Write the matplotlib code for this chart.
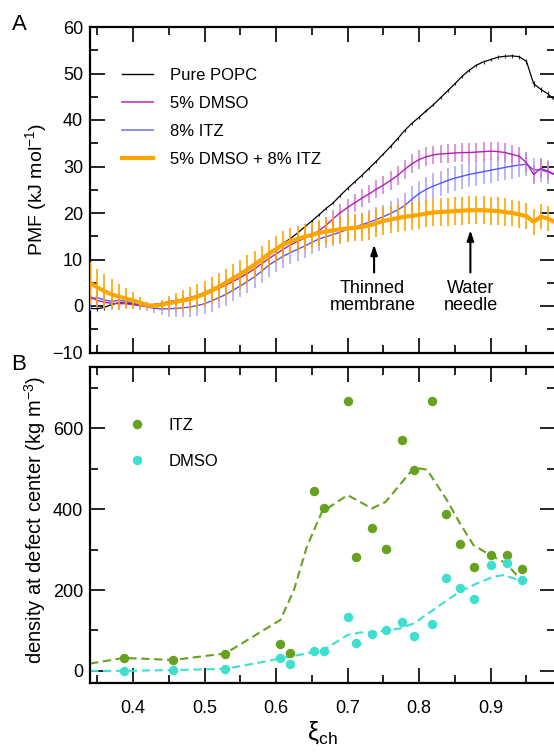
import numpy as np
import matplotlib
matplotlib.use("Agg")
import matplotlib.pyplot as plt
from matplotlib.lines import Line2D
from matplotlib.ticker import MultipleLocator

plt.rcParams['font.family'] = ['Liberation Sans', 'DejaVu Sans']
plt.rcParams['mathtext.fontset'] = 'custom'
plt.rcParams['mathtext.rm'] = 'Liberation Sans'
plt.rcParams['mathtext.it'] = 'Liberation Sans:italic'

# ---------------- Panel A data (PMF) ----------------
xi = [0.34, 0.35, 0.36, 0.37, 0.38, 0.39, 0.40, 0.41, 0.42, 0.43,
      0.44, 0.45, 0.46, 0.47, 0.48, 0.49, 0.50, 0.51, 0.52, 0.53,
      0.54, 0.55, 0.56, 0.57, 0.58, 0.59, 0.60, 0.61, 0.62, 0.63,
      0.64, 0.65, 0.66, 0.67, 0.68, 0.69, 0.70, 0.71, 0.72, 0.73,
      0.74, 0.75, 0.76, 0.77, 0.78, 0.79, 0.80, 0.81, 0.82, 0.83,
      0.84, 0.85, 0.86, 0.87, 0.88, 0.89, 0.90, 0.91, 0.92, 0.93,
      0.94, 0.95, 0.96, 0.97, 0.98, 0.99]

pmf_popc = [-0.5, -0.6, -0.3, 0.3, 0.7, 0.6, 0.4, 0.2, 0.2, 0.3,
            0.6, 0.9, 1.2, 1.5, 1.8, 2.3, 2.9, 3.6, 4.4, 5.3,
            6.2, 7.1, 8.1, 9.2, 10.3, 11.5, 12.5, 13.5, 14.5, 15.7,
            17.0, 18.3, 19.6, 21.0, 22.2, 23.8, 25.3, 26.7, 28.1, 29.6,
            31.1, 32.7, 34.3, 36.0, 37.8, 39.3, 40.6, 42.0, 43.3, 44.8,
            46.3, 47.8, 49.4, 50.7, 51.8, 52.5, 53.0, 53.5, 53.7, 53.8,
            53.6, 52.6, 47.8, 46.6, 45.6, 44.2]
err_popc = [0.5, 0.5, 0.5, 0.4, 0.4, 0.4, 0.3, 0.3, 0.3, 0.3,
            0.3, 0.3, 0.3, 0.3, 0.3, 0.3, 0.3, 0.3, 0.3, 0.3,
            0.3, 0.3, 0.3, 0.3, 0.3, 0.3, 0.3, 0.3, 0.3, 0.3,
            0.3, 0.3, 0.3, 0.3, 0.3, 0.3, 0.3, 0.3, 0.3, 0.3,
            0.3, 0.3, 0.3, 0.3, 0.3, 0.3, 0.3, 0.3, 0.3, 0.3,
            0.3, 0.3, 0.3, 0.3, 0.3, 0.4, 0.4, 0.4, 0.4, 0.4,
            0.4, 0.5, 0.6, 0.6, 0.6, 0.6]

pmf_dmso = [2.0, 1.2, 0.8, 0.6, 0.5, 0.5, 0.3, 0.1, 0.0, 0.1,
            0.4, 0.7, 1.0, 1.3, 1.7, 2.1, 2.6, 3.2, 3.8, 4.5,
            5.3, 6.1, 7.0, 8.0, 9.1, 10.2, 11.2, 12.2, 13.1, 13.9,
            14.6, 15.3, 16.2, 17.4, 18.8, 20.1, 21.2, 22.2, 23.2, 24.1,
            25.1, 26.0, 27.0, 28.1, 29.4, 30.6, 31.5, 32.1, 32.5, 32.7,
            32.8, 32.9, 33.0, 33.0, 33.1, 33.2, 33.3, 33.2, 33.0, 32.6,
            32.2, 30.8, 28.3, 29.6, 29.0, 28.3]
err_dmso = [1.5, 1.3, 1.1, 1.0, 0.9, 0.8, 0.6, 0.5, 0.4, 0.5,
            0.7, 0.9, 1.0, 1.1, 1.2, 1.3, 1.4, 1.5, 1.5, 1.6,
            1.6, 1.6, 1.7, 1.7, 1.7, 1.7, 1.7, 1.7, 1.8, 1.8,
            1.8, 1.8, 1.8, 1.8, 1.8, 1.8, 1.9, 1.9, 1.9, 1.9,
            1.9, 1.9, 2.0, 2.0, 2.0, 2.0, 2.0, 2.0, 2.0, 2.0,
            2.0, 2.0, 2.0, 2.0, 2.0, 2.0, 2.0, 2.0, 2.0, 2.0,
            2.0, 2.0, 2.0, 2.0, 2.0, 2.0]

pmf_itz = [1.5, 1.8, 1.3, 1.0, 1.2, 1.0, 0.6, 0.2, -0.2, -0.5,
           -0.6, -0.6, -0.5, -0.4, -0.2, 0.1, 0.5, 1.1, 1.8, 2.5,
           3.4, 4.3, 5.3, 6.3, 7.5, 8.8, 9.8, 10.7, 11.5, 12.2,
           12.9, 13.7, 14.4, 14.9, 15.4, 15.9, 16.5, 17.0, 17.5, 18.0,
           18.6, 19.2, 19.9, 20.7, 21.6, 23.0, 24.2, 25.1, 25.8, 26.4,
           27.0, 27.5, 27.9, 28.3, 28.6, 28.9, 29.2, 29.5, 29.8, 30.1,
           30.3, 30.5, 29.3, 29.3, 28.8, 28.2]
err_itz = [2.5, 2.3, 2.0, 1.8, 1.6, 1.4, 1.2, 1.0, 0.8, 1.0,
           1.4, 1.7, 1.9, 2.0, 2.1, 2.2, 2.2, 2.3, 2.3, 2.4,
           2.4, 2.4, 2.5, 2.5, 2.5, 2.5, 2.5, 2.5, 2.5, 2.5,
           2.5, 2.5, 2.5, 2.5, 2.5, 2.5, 2.6, 2.6, 2.6, 2.6,
           2.6, 2.6, 2.6, 2.6, 2.7, 2.7, 2.7, 2.7, 2.7, 2.7,
           2.7, 2.7, 2.7, 2.7, 2.7, 2.7, 2.7, 2.7, 2.7, 2.7,
           2.6, 2.6, 2.6, 2.6, 2.6, 2.6]

pmf_combo = [5.0, 4.0, 3.2, 2.5, 2.0, 1.6, 1.2, 0.7, 0.2, 0.0,
             0.3, 0.6, 0.9, 1.2, 1.5, 2.0, 2.6, 3.3, 4.1, 5.0,
             5.9, 6.8, 7.8, 8.9, 10.0, 11.2, 12.2, 13.2, 13.9, 14.4,
             14.9, 15.3, 15.7, 16.0, 16.3, 16.5, 16.7, 16.8, 17.0, 17.3,
             17.8, 18.3, 18.6, 18.9, 19.2, 19.4, 19.6, 19.9, 20.1, 20.2,
             20.3, 20.4, 20.5, 20.6, 20.6, 20.6, 20.5, 20.4, 20.2, 20.0,
             19.7, 19.3, 18.1, 19.2, 18.8, 18.0]
err_combo = [4.5, 4.0, 3.6, 3.2, 2.8, 2.3, 1.8, 1.2, 0.6, 0.3,
             1.0, 1.6, 2.0, 2.3, 2.5, 2.7, 2.8, 2.9, 3.0, 3.0,
             3.1, 3.1, 3.1, 3.0, 3.0, 3.0, 2.9, 2.9, 2.8, 2.8,
             2.8, 2.8, 2.9, 2.9, 2.9, 2.9, 2.9, 2.9, 3.0, 3.0,
             3.0, 3.0, 3.0, 3.0, 3.0, 3.0, 3.0, 3.0, 3.0, 3.0,
             3.0, 3.0, 3.0, 3.0, 3.0, 3.0, 3.0, 3.0, 3.0, 2.9,
             2.9, 2.8, 2.8, 2.7, 2.7, 2.7]

pmf_labels = ["Pure POPC", "5% DMSO", "8% ITZ", "5% DMSO + 8% ITZ"]

# ---------------- Panel B data (density) ----------------
xi_pts = [0.387, 0.456, 0.529, 0.606, 0.620, 0.653, 0.667, 0.700, 0.712, 0.734,
          0.753, 0.776, 0.793, 0.818, 0.837, 0.857, 0.877, 0.900, 0.923, 0.944]
dens_itz = [32, 27, 43, 67, 45, 445, 402, 669, 281, 353,
            301, 572, 497, 667, 389, 314, 256, 286, 287, 251]
dens_dmso = [0, 1, 5, 31, 16, 48, 49, 134, 70, 91,
             101, 121, 87, 117, 230, 206, 179, 261, 267, 225]

xi_fit_itz = [0.34, 0.387, 0.456, 0.529, 0.606, 0.625, 0.643, 0.664, 0.700, 0.734,
              0.753, 0.793, 0.811, 0.839, 0.857, 0.876, 0.904, 0.922, 0.944]
fit_itz = [18, 32, 27, 43, 126, 200, 307, 393, 435, 402,
           418, 503, 498, 422, 365, 311, 282, 266, 221]
xi_fit_dmso = [0.34, 0.387, 0.456, 0.529, 0.578, 0.606, 0.625, 0.667, 0.700, 0.718,
               0.734, 0.773, 0.793, 0.820, 0.839, 0.857, 0.880, 0.904, 0.918, 0.932, 0.944]
fit_dmso = [0, 0, 2, 5, 21, 31, 37, 52, 89, 95,
            95, 105, 118, 151, 175, 196, 216, 233, 237, 229, 222]
dens_labels = ["ITZ", "DMSO"]

# ---------------- figure ----------------
W, H = 554, 753
fig = plt.figure(figsize=(W / 100, H / 100), dpi=100)
fig.patch.set_facecolor('white')

def fx(px):
    return px / W

def fy(py):
    return 1 - py / H

left_px, right_px = 90.04, 555.1
axA = fig.add_axes([fx(left_px), fy(352.5), (right_px - left_px) / W, (352.5 - 27) / H])
axB = fig.add_axes([fx(left_px), fy(683), (right_px - left_px) / W, (683 - 367) / H])

c_black = 'black'
c_mag, c_mag_e = '#b020b0', '#d27ad2'
c_blue, c_blue_e = '#5555ff', '#a3a3ff'
c_orange = '#ffa500'
c_green, c_cyan = '#66a11f', '#3fdfd0'

axA.errorbar(xi, pmf_popc, yerr=err_popc, color=c_black, lw=0.9, ecolor='#333333',
             elinewidth=0.8, capsize=0, zorder=2)
axA.errorbar(xi, pmf_itz, yerr=err_itz, color=c_blue, lw=1.0, ecolor=c_blue_e,
             elinewidth=1.1, capsize=0, zorder=3)
axA.errorbar(xi, pmf_dmso, yerr=err_dmso, color=c_mag, lw=1.0, ecolor=c_mag_e,
             elinewidth=1.1, capsize=0, zorder=4)
axA.errorbar(xi, pmf_combo, yerr=err_combo, color=c_orange, lw=3.0, ecolor=c_orange,
             elinewidth=1.2, capsize=0, zorder=5)

axA.set_xlim(0.34, 0.99)
axA.set_ylim(-10, 60)
axA.yaxis.set_major_locator(MultipleLocator(10))
axA.yaxis.set_minor_locator(MultipleLocator(5))

axB.plot(xi_fit_itz, fit_itz, color=c_green, lw=1.5, dashes=(4, 2.2), zorder=2)
axB.plot(xi_fit_dmso, fit_dmso, color=c_cyan, lw=1.5, dashes=(4, 2.2), zorder=2)
axB.plot(xi_pts, dens_itz, 'o', color=c_green, ms=6.8, mew=0, zorder=3)
axB.plot(xi_pts, dens_dmso, 'o', color=c_cyan, ms=6.8, mew=0, zorder=3)
axB.set_xlim(0.34, 0.99)
axB.set_ylim(-30, 752)
axB.yaxis.set_major_locator(MultipleLocator(200))
axB.yaxis.set_minor_locator(MultipleLocator(100))

for ax in (axA, axB):
    ax.xaxis.set_major_locator(MultipleLocator(0.1))
    ax.xaxis.set_minor_locator(MultipleLocator(0.05))
    ax.tick_params(which='both', direction='in', top=True, right=True, width=1.2)
    ax.tick_params(which='major', length=10.5)
    ax.tick_params(which='minor', length=5.5)
    ax.tick_params(axis='y', labelsize=13, pad=5)
    ax.tick_params(axis='x', labelsize=13, pad=12)
    for s in ax.spines.values():
        s.set_linewidth(1.6)
axA.tick_params(axis='x', labelbottom=False)

# Panel A legend
leg_cols = [c_black, '#cc55cc', '#8c8cff', c_orange]
leg_lw = [1.0, 1.4, 1.4, 3.0]
leg_y = [74, 102.3, 130, 157.5]
for lab, col, lw, yy in zip(pmf_labels, leg_cols, leg_lw, leg_y):
    fig.add_artist(Line2D([fx(122), fx(153)], [fy(yy), fy(yy)], color=col, lw=lw,
                          transform=fig.transFigure))
    fig.text(fx(170), fy(yy), lab, fontsize=12, ha='left', va='center_baseline')

# Panel B legend
for lab, col, yy in zip(dens_labels, [c_green, c_cyan], [424.3, 460]):
    fig.add_artist(Line2D([fx(136.7)], [fy(yy)], marker='o', ms=6.8, mew=0, color=col,
                          transform=fig.transFigure))
    fig.text(fx(169), fy(yy), lab, fontsize=12, ha='left', va='center_baseline')

# Annotations
axA.annotate('', xy=(0.737, 13.8), xytext=(0.737, 6.6),
             arrowprops=dict(arrowstyle='-|>,head_length=0.6,head_width=0.2', color='black', lw=1.5))
axA.annotate('', xy=(0.8716, 16.9), xytext=(0.8716, 6.6),
             arrowprops=dict(arrowstyle='-|>,head_length=0.6,head_width=0.2', color='black', lw=1.5))
axA.text(0.735, 2.0, 'Thinned\nmembrane', fontsize=13, ha='center', va='center', linespacing=1.0)
axA.text(0.8726, 2.0, 'Water\nneedle', fontsize=13, ha='center', va='center', linespacing=1.0)

# Labels
fig.text(fx(19.5), fy(24.5), 'A', fontsize=16, ha='center', va='center')
fig.text(fx(19), fy(365), 'B', fontsize=16, ha='center', va='center')
fig.text(fx(36), fy(190), 'PMF (kJ mol$^{\\mathrm{-1}}$)', fontsize=14, rotation=90,
         ha='center', va='center')
fig.text(fx(35), fy(520), 'density at defect center (kg m$^{\\mathrm{-3}}$)', fontsize=14.5,
         rotation=90, ha='center', va='center')
fig.text(fx(322), fy(733), '\u03be$_{\\mathrm{ch}}$', fontsize=18, ha='center', va='center')

fig.savefig('out.png', dpi=100)
